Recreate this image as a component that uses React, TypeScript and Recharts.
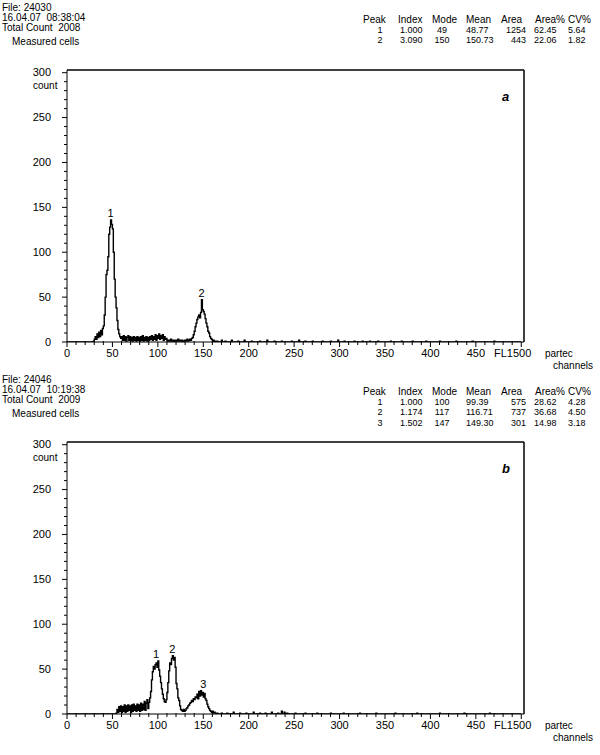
import React from 'react';
import { LineChart, Line, XAxis, YAxis, ReferenceLine, ReferenceDot } from 'recharts';

// x axis: channels, y axis: count
const xTicks = [0, 10, 20, 30, 40, 50, 60, 70, 80, 90, 100, 110, 120, 130, 140, 150, 160, 170, 180, 190, 200, 210, 220, 230, 240, 250, 260, 270, 280, 290, 300, 310, 320, 330, 340, 350, 360, 370, 380, 390, 400, 410, 420, 430, 440, 450, 460, 470, 480, 490, 500];
const yTicks = [0, 10, 20, 30, 40, 50, 60, 70, 80, 90, 100, 110, 120, 130, 140, 150, 160, 170, 180, 190, 200, 210, 220, 230, 240, 250, 260, 270, 280, 290, 300];

// panel a: counts from channel 28 to 165
const topStart = 28;
const topCounts = [
  0, 1, 3, 6, 3, 9, 5, 11, 6, 13, 8, 15, 18, 30, 50, 75, 80, 95, 120, 128,
  136, 131, 126, 100, 70, 50, 38, 24, 14, 9, 6, 4,
  6, 2, 7, 2, 6, 1, 5, 7, 2, 6, 2, 5, 1, 6, 2, 5, 1, 6, 2, 5, 1, 6, 2, 7, 1, 5, 2, 6, 1, 5,
  2, 6, 3, 7, 2, 6, 3, 8, 2, 7, 4, 9, 3, 7, 4, 8, 2, 6, 3, 4, 2,
  1, 2, 1, 3, 1, 2, 0, 2, 1, 2, 1, 3, 1, 2, 1, 2, 0, 1, 2, 1, 2, 3, 1, 2, 3, 2, 4,
  5, 8, 12, 17, 21, 25, 28, 30, 27, 33, 47, 36, 34, 31, 26, 21, 17, 12, 10, 6, 4, 3,
  1, 2, 0, 1, 0, 1,
];
const topTail = [[170, 2], [174, 1], [181, 2], [188, 1], [195, 2], [203, 1], [212, 1], [220, 2], [228, 1], [236, 1], [247, 1], [255, 2], [262, 1], [270, 1], [281, 1], [290, 1], [298, 2], [305, 1], [316, 1], [325, 1], [333, 1], [342, 1], [356, 1], [368, 1], [380, 1], [395, 1], [410, 1], [428, 1], [446, 1], [470, 1]];
const topPeaks = [{ label: '1', ch: 48, count: 136 }, { label: '2', ch: 148, count: 47 }];

// panel b: counts from channel 50 to 165
const botStart = 50;
const botCounts = [
  0, 0, 0, 0, 1, 5, 2, 8, 3, 9, 2, 8, 3, 10, 2, 9, 3, 10, 4, 9,
  2, 10, 3, 11, 4, 9, 3, 11, 4, 10, 3, 12, 4, 11, 5, 14, 4, 12, 16, 6,
  13, 18, 25, 38, 47, 53, 50, 55, 57, 52, 59, 49, 42, 35, 28, 22, 17, 14, 13, 16,
  24, 35, 48, 57, 55, 62, 65, 60, 63, 52, 34, 28, 18, 15, 9, 5, 4, 3, 5, 3,
  4, 6, 7, 9, 10, 12, 13, 15, 14, 17, 16, 19, 18, 22, 17, 25, 20, 26, 21, 24,
  19, 23, 17, 15, 11, 8, 6, 4, 3, 2, 3, 1, 2, 1, 0, 1,
];
const botTail = [[170, 1], [176, 1], [183, 2], [190, 1], [197, 1], [205, 2], [212, 1], [218, 1], [225, 2], [232, 1], [236, 3], [239, 2], [242, 1], [251, 1], [262, 1], [275, 1], [290, 1], [304, 1], [322, 1], [340, 1], [361, 1], [385, 1], [410, 1], [437, 1], [465, 1]];
const botPeaks = [{ label: '1', ch: 98, count: 59 }, { label: '2', ch: 116, count: 65 }, { label: '3', ch: 150, count: 26 }];

const tableHead = ['Peak', 'Index', 'Mode', 'Mean', 'Area', 'Area%', 'CV%'];
const topRows = [
  ['1', '1.000', '49', '48.77', '1254', '62.45', '5.64'],
  ['2', '3.090', '150', '150.73', '443', '22.06', '1.82'],
];
const botRows = [
  ['1', '1.000', '100', '99.39', '575', '28.62', '4.28'],
  ['2', '1.174', '117', '116.71', '737', '36.68', '4.50'],
  ['3', '1.502', '147', '149.30', '301', '14.98', '3.18'],
];

const FONT = '"Liberation Sans", Arial, sans-serif';

function buildData(start: number, counts: number[], tail: number[][]) {
  const rows: { ch: number; count: number }[] = [];
  for (let ch = 0; ch <= 500; ch++) rows.push({ ch, count: 0 });
  counts.forEach((c, i) => { rows[start + i].count = c; });
  tail.forEach(([ch, c]) => { rows[ch].count = c; });
  return rows;
}

const XTick = (props: any) => {
  const { x, y, payload } = props;
  const v = payload.value;
  const major = v % 50 === 0;
  return (
    <g>
      <line x1={x} x2={x} y1={y - (major ? 0 : 1)} y2={y + (major ? 5 : 3)} stroke="#000" />
      {major && (
        <text x={v === 500 ? x + 10 : x} y={y + 15} textAnchor={v === 500 ? 'end' : 'middle'} fontSize={11} fontFamily={FONT} fill="#000">
          {v === 500 ? 'FL1500' : v}
        </text>
      )}
    </g>
  );
};

const YTick = (props: any) => {
  const { x, y, payload } = props;
  const v = payload.value;
  const major = v % 50 === 0;
  return (
    <g>
      <line x1={x - (major ? 5 : 3)} x2={x} y1={y} y2={y} stroke="#000" />
      {major && (
        <text x={x - 16} y={y + 3.5} textAnchor="end" fontSize={11} fontFamily={FONT} fill="#000">{v}</text>
      )}
    </g>
  );
};

const colX = [363, 398, 432, 466, 501, 535, 568];
const cellX = [
  { x: 380, a: 'middle' }, { x: 400, a: 'start' }, { x: 442, a: 'middle' }, { x: 466, a: 'start' },
  { x: 526, a: 'end' }, { x: 534, a: 'start' }, { x: 568, a: 'start' },
];

function Panel({ top, file, date, total, rows, start, counts, tail, peaks, letter }: any) {
  const data = buildData(start, counts, tail);
  const txt: React.CSSProperties = { position: 'absolute', fontFamily: FONT, fontSize: 10, lineHeight: '10px', whiteSpace: 'pre', color: '#000' };
  return (
    <div style={{ position: 'absolute', left: 0, top, width: 600, height: 372 }}>
      <div style={{ ...txt, left: 2, top: 3 }}>{`File: ${file}`}</div>
      <div style={{ ...txt, left: 2, top: 13 }}>{date}</div>
      <div style={{ ...txt, left: 2, top: 23 }}>{`Total Count  ${total}`}</div>
      <div style={{ ...txt, left: 12, top: 37 }}>Measured cells</div>
      <div style={{ ...txt, left: 33, top: 80.5 }}>count</div>
      <div style={{ ...txt, left: 545, top: 349 }}>partec</div>
      <div style={{ ...txt, left: 553, top: 360.5 }}>channels</div>
      <svg width={600} height={70} style={{ position: 'absolute', left: 0, top: 0 }}>
        {tableHead.map((h, i) => (
          <text key={h} x={colX[i]} y={22.5} fontSize={10} fontFamily={FONT}>{h}</text>
        ))}
        {rows.map((r: string[], ri: number) =>
          r.map((v, ci) => (
            <text key={`${ri}-${ci}`} x={cellX[ci].x} y={33 + ri * 10.3} fontSize={9} fontFamily={FONT} textAnchor={cellX[ci].a as any}>{v}</text>
          ))
        )}
      </svg>
      <div style={{ position: 'absolute', left: 0, top: 0 }}>
        <LineChart width={600} height={372} data={data} margin={{ top: 70, right: 76, left: 27, bottom: 0 }}>
          <XAxis
            dataKey="ch"
            type="number"
            domain={[0, 503]}
            ticks={xTicks}
            interval={0}
            tickSize={0}
            tickMargin={0}
            tickLine={false}
            tick={<XTick />}
            height={30}
            stroke="#000"
            allowDataOverflow
          />
          <YAxis
            type="number"
            domain={[0, 303]}
            ticks={yTicks}
            interval={0}
            tickSize={0}
            tickMargin={0}
            tickLine={false}
            tick={<YTick />}
            width={40}
            stroke="#000"
            allowDataOverflow
          />
          <ReferenceLine y={303} stroke="#000" strokeWidth={1.5} />
          <ReferenceLine x={503} stroke="#000" strokeWidth={1.5} />
          <Line dataKey="count" type="stepAfter" stroke="#000" strokeWidth={1.4} dot={false} isAnimationActive={false} />
          {peaks.map((p: any) => (
            <ReferenceDot key={p.label} x={p.ch} y={p.count} r={0} stroke="none" fill="none"
              label={{ value: p.label, position: 'top', offset: 3, fontSize: 11, fontFamily: FONT, fill: '#000' }} />
          ))}
        </LineChart>
      </div>
      <div style={{ ...txt, left: 502, top: 90, fontSize: 13, lineHeight: '13px', fontWeight: 'bold', fontStyle: 'italic' }}>{letter}</div>
    </div>
  );
}

export default function App() {
  return (
    <div style={{ position: 'absolute', left: 0, top: 0, width: 600, height: 755, background: '#fff' }}>
      <Panel top={0} file="24030" date="16.04.07  08:38:04" total="2008" rows={topRows}
        start={topStart} counts={topCounts} tail={topTail} peaks={topPeaks} letter="a" />
      <Panel top={372} file="24046" date="16.04.07  10:19:38" total="2009" rows={botRows}
        start={botStart} counts={botCounts} tail={botTail} peaks={botPeaks} letter="b" />
    </div>
  );
}
